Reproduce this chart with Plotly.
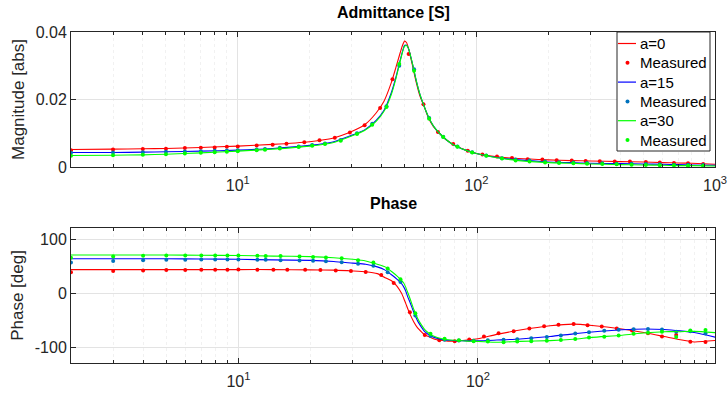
import plotly.graph_objects as go

# ---------------- data ----------------
f_line = [2, 3, 4, 5, 7, 10, 14, 20, 25, 30, 34, 38, 41, 44, 46, 48, 49, 50, 51, 52,
          54, 56, 58, 60, 63, 66, 70, 75, 80, 90, 100, 120, 150, 200, 250, 300, 400,
          500, 600, 700, 800, 1000]

mag_a0 = [0.0052, 0.0053, 0.0054, 0.0055, 0.0058, 0.0062, 0.0067, 0.0075, 0.0085, 0.0105,
          0.0125, 0.0160, 0.0195, 0.0250, 0.0295, 0.0340, 0.0360, 0.0373, 0.0368, 0.0350,
          0.0300, 0.0250, 0.0210, 0.0185, 0.0145, 0.0120, 0.0100, 0.0080, 0.0067, 0.0050,
          0.0040, 0.0031, 0.0025, 0.0021, 0.0019, 0.0018, 0.0016, 0.0015, 0.0013, 0.0012,
          0.0011, 0.0008]
mag_a15 = [0.0043, 0.0043, 0.0044, 0.0045, 0.0047, 0.0050, 0.0055, 0.0064, 0.0074, 0.0094,
           0.0110, 0.0138, 0.0168, 0.0220, 0.0266, 0.0318, 0.0342, 0.0360, 0.0361, 0.0350,
           0.0305, 0.0255, 0.0215, 0.0185, 0.0148, 0.0122, 0.0100, 0.0080, 0.0066, 0.0050,
           0.0040, 0.0029, 0.0021, 0.0015, 0.0013, 0.0011, 0.0010, 0.0009, 0.0008, 0.0007,
           0.0006, 0.0005]
mag_a30 = [0.0034, 0.0035, 0.0036, 0.0038, 0.0042, 0.0047, 0.0053, 0.0062, 0.0072, 0.0092,
           0.0108, 0.0135, 0.0165, 0.0215, 0.0262, 0.0315, 0.0340, 0.0358, 0.0360, 0.0350,
           0.0305, 0.0255, 0.0215, 0.0185, 0.0148, 0.0122, 0.0100, 0.0080, 0.0066, 0.0050,
           0.0040, 0.0028, 0.0019, 0.0013, 0.0011, 0.0009, 0.0007, 0.0006, 0.0005, 0.0004,
           0.0004, 0.0003]

ph_a0 = [45, 45, 45, 45, 45, 45, 45, 44.5, 44, 42.5, 41, 37.5, 30, 23, 14, 1, -8, -18, -28, -37,
         -52, -63, -70, -76, -80, -84, -86, -87.5, -87.5, -85.5, -83, -75, -67, -59, -56, -58.5,
         -65, -72, -79, -85, -89, -86]
ph_a15 = [65, 65, 65, 65, 64.5, 64, 63, 62, 60, 57, 55, 50, 44, 34, 27, 19, 13, 5, -6, -15,
          -34, -50, -61, -70, -77, -81, -84, -86, -86.5, -87, -87, -85.5, -83.5, -79, -74, -70.5,
          -66.5, -65, -66, -68.5, -71.5, -81]
ph_a30 = [72, 72, 72, 72, 71.5, 71, 70, 69, 67, 64, 61, 55, 50, 40, 33, 25, 20, 12, 2, -8,
          -29, -45, -57, -66, -74, -79, -82.5, -85, -86, -87.5, -88, -89.5, -88, -86.5, -84, -80.5,
          -76.5, -72, -70, -70, -69.5, -72]

f_meas_a0 = [2, 3, 4, 5, 6, 7, 8, 9, 10, 12, 14, 16, 19, 22, 25.5, 29.5, 34, 39.5, 44.5, 52,
             60, 69, 80, 92, 106, 122, 141, 164, 189, 217, 251, 287, 329, 380, 440, 513, 587,
             673, 771, 892]
f_meas_b = [2, 3, 4, 5, 6, 7, 8, 9, 10, 12, 13, 15, 18, 20.5, 23.2, 27, 31.6, 36.6, 42, 47.5,
            54.8, 63.4, 72.6, 83.3, 96, 110, 128, 146, 167, 194, 222, 255, 291, 337, 387, 447,
            513, 587, 673, 771, 892]

mmag_a0 = [0.0050, 0.0052, 0.0053, 0.0054, 0.0056, 0.0057, 0.0058, 0.0060, 0.0061, 0.0064,
           0.0066, 0.0069, 0.0073, 0.0079, 0.0087, 0.0102, 0.0124, 0.0175, 0.0260, 0.0335,
           0.0186, 0.0104, 0.0068, 0.0048, 0.0037, 0.0031, 0.0027, 0.0023, 0.0022, 0.0020,
           0.0019, 0.0018, 0.0017, 0.0016, 0.0016, 0.0015, 0.0013, 0.0012, 0.0011, 0.0009]
mmag_a15 = [0.0042, 0.0043, 0.0044, 0.0045, 0.0046, 0.0047, 0.0048, 0.0049, 0.0050, 0.0052,
            0.0053, 0.0057, 0.0061, 0.0065, 0.0070, 0.0080, 0.0100, 0.0128, 0.0180, 0.0300,
            0.0290, 0.0145, 0.0090, 0.0061, 0.0044, 0.0034, 0.0026, 0.0022, 0.0019, 0.0016,
            0.0014, 0.0013, 0.0012, 0.0011, 0.0010, 0.0010, 0.0009, 0.0008, 0.0007, 0.0007,
            0.0006]
mmag_a30 = [0.0033, 0.0035, 0.0036, 0.0038, 0.0040, 0.0042, 0.0044, 0.0045, 0.0047, 0.0050,
            0.0051, 0.0055, 0.0059, 0.0063, 0.0068, 0.0078, 0.0098, 0.0125, 0.0178, 0.0305,
            0.0285, 0.0143, 0.0089, 0.0060, 0.0043, 0.0033, 0.0025, 0.0019, 0.0016, 0.0013,
            0.0012, 0.0011, 0.0010, 0.0009, 0.0008, 0.0007, 0.0006, 0.0005, 0.0005, 0.0004,
            0.0004]

mph_a0 = [40, 42.5, 43.5, 44, 44, 44.5, 44.5, 44.5, 45, 44.5, 44.5, 44.5, 44.5, 44, 43.5, 42.5,
          40.5, 35, 20, -34, -76, -86, -87.5, -84.5, -79, -73, -69, -64, -60, -57, -56, -58,
          -60.5, -64, -68, -73, -79, -76, -88.5, -89]
mph_a15 = [58, 61, 62.5, 63, 63, 63.5, 63.5, 63.5, 63.5, 63, 63, 62.5, 62, 61.5, 60.5, 58.5,
           56, 52, 40, 22, -40, -78, -85, -86.5, -87, -86, -85, -84, -82, -80, -77, -73.5, -71,
           -68.5, -66.5, -65.5, -65, -66, -70, -69, -73.5]
mph_a30 = [67, 69, 70.5, 71, 71, 71, 71, 71, 71, 70.5, 70, 70, 69, 68.5, 67.5, 66, 62.5, 58, 47,
           27, -36, -74, -83, -86, -87.5, -88, -89.5, -88, -87.5, -87, -85.5, -83.5, -81, -79.5,
           -77, -74, -72, -70, -80, -68, -67]

legend_labels = ["a=0", "Measured", "a=15", "Measured", "a=30", "Measured"]

series = [
    ("a=0", "#FF0000", "#FF0000", mag_a0, ph_a0, f_meas_a0, mmag_a0, mph_a0),
    ("a=15", "#0000FF", "#0072BD", mag_a15, ph_a15, f_meas_b, mmag_a15, mph_a15),
    ("a=30", "#00FF00", "#00FF00", mag_a30, ph_a30, f_meas_b, mmag_a30, mph_a30),
]

x_tickvals = [10, 100, 1000]
x_ticktext = ["10<sup>1</sup>", "10<sup>2</sup>", "10<sup>3</sup>"]
minor_vals = [2, 3, 4, 5, 6, 7, 8, 9, 20, 30, 40, 50, 60, 70, 80, 90,
              200, 300, 400, 500, 600, 700, 800, 900]

# ---------------- figure ----------------
FONT = "Liberation Sans, Arial, sans-serif"
fig = go.Figure()
for name, lc, mc, mag, ph, fm, mm, mp in series:
    fig.add_trace(go.Scatter(x=f_line, y=mag, mode="lines", name=name,
                             line=dict(color=lc, width=1.1, shape="spline", smoothing=0.6),
                             xaxis="x", yaxis="y"))
    fig.add_trace(go.Scatter(x=fm, y=mm, mode="markers", name="Measured",
                             marker=dict(color=mc, size=4, symbol="circle"),
                             xaxis="x", yaxis="y"))
for name, lc, mc, mag, ph, fm, mm, mp in series:
    fig.add_trace(go.Scatter(x=f_line, y=ph, mode="lines", name=name,
                             line=dict(color=lc, width=1.1, shape="spline", smoothing=0.6),
                             xaxis="x2", yaxis="y2"))
    fig.add_trace(go.Scatter(x=fm, y=mp, mode="markers", name="Measured",
                             marker=dict(color=mc, size=4, symbol="circle"),
                             xaxis="x2", yaxis="y2"))

axcol = "#262626"
gridcol = "#E3E3E3"
tickfont = dict(family=FONT, size=16, color=axcol)
common_x = dict(type="log", showline=True, linecolor=axcol, linewidth=1, mirror="allticks",
                ticks="inside", ticklen=5, tickcolor=axcol, tickfont=tickfont,
                ticklabelstandoff=4,
                tickmode="array", tickvals=x_tickvals, ticktext=x_ticktext,
                showgrid=True, gridcolor=gridcol, gridwidth=1, zeroline=False,
                minor=dict(tickmode="array", tickvals=minor_vals, ticks="inside", ticklen=3,
                           tickcolor=axcol, showgrid=True, gridcolor="#F1F1F1", griddash="dot"))
common_y = dict(showline=True, linecolor=axcol, linewidth=1, mirror="allticks",
                ticks="inside", ticklen=5, tickcolor=axcol, tickfont=tickfont,
                showgrid=True, gridcolor=gridcol, gridwidth=1, zeroline=False)

titlefont = dict(family=FONT, size=17, color=axcol)

# pixel -> paper helpers for legend placement
PL, PR, PT, PB = 71, 715, 32, 363
def X(px):
    return (px - PL) / (PR - PL)
def Y(py):
    return (PB - py) / (PB - PT)

shapes = [dict(type="rect", xref="paper", yref="paper", layer="above",
               x0=X(617), x1=X(710), y0=Y(151), y1=Y(32),
               fillcolor="white", line=dict(color=axcol, width=1))]
annotations = []
legend_colors = [("line", "#FF0000"), ("dot", "#FF0000"), ("line", "#0000FF"),
                 ("dot", "#0072BD"), ("line", "#00FF00"), ("dot", "#00FF00")]
for i, (lab, (kind, col)) in enumerate(zip(legend_labels, legend_colors)):
    cy = 43.5 + i * 19.3
    if kind == "line":
        shapes.append(dict(type="line", xref="paper", yref="paper", layer="above",
                           x0=X(618), x1=X(636), y0=Y(cy), y1=Y(cy),
                           line=dict(color=col, width=1.2)))
    else:
        shapes.append(dict(type="circle", xref="paper", yref="paper", layer="above",
                           x0=X(625.5), x1=X(629.5), y0=Y(cy + 2), y1=Y(cy - 2),
                           fillcolor=col, line=dict(color=col, width=0)))
    annotations.append(dict(text=lab, x=X(638), y=Y(cy), xref="paper", yref="paper",
                            showarrow=False, xanchor="left", yanchor="middle",
                            font=dict(family=FONT, size=15, color="black")))

annotations += [
    dict(text="<b>Admittance [S]</b>", x=0.5, y=Y(12), xref="paper", yref="paper",
         showarrow=False, xanchor="center", yanchor="middle",
         font=dict(family=FONT, size=16, color="black")),
    dict(text="<b>Phase</b>", x=0.5, y=Y(203), xref="paper", yref="paper",
         showarrow=False, xanchor="center", yanchor="middle",
         font=dict(family=FONT, size=16, color="black")),
]

fig.update_layout(
    width=728, height=394,
    margin=dict(l=71, r=13, t=32, b=31, autoexpand=False),
    paper_bgcolor="white", plot_bgcolor="white",
    showlegend=False,
    xaxis=dict(common_x, domain=[0, 1], anchor="y", range=[0.30103, 3.0]),
    yaxis=dict(common_y, domain=[Y(167), 1], anchor="x", range=[0, 0.04],
               tickvals=[0, 0.02, 0.04], ticktext=["0", "0.02", "0.04"],
               title=dict(text="Magnitude [abs]", font=titlefont, standoff=6)),
    xaxis2=dict(common_x, domain=[0, 1], anchor="y2", range=[0.30103, 2.99]),
    yaxis2=dict(common_y, domain=[0, Y(228)], anchor="x2", range=[-128, 122],
                tickvals=[-100, 0, 100], ticktext=["-100", "0", "100"],
                title=dict(text="Phase [deg]", font=titlefont, standoff=6)),
    shapes=shapes,
    annotations=annotations,
)

fig.write_html("out.html")
